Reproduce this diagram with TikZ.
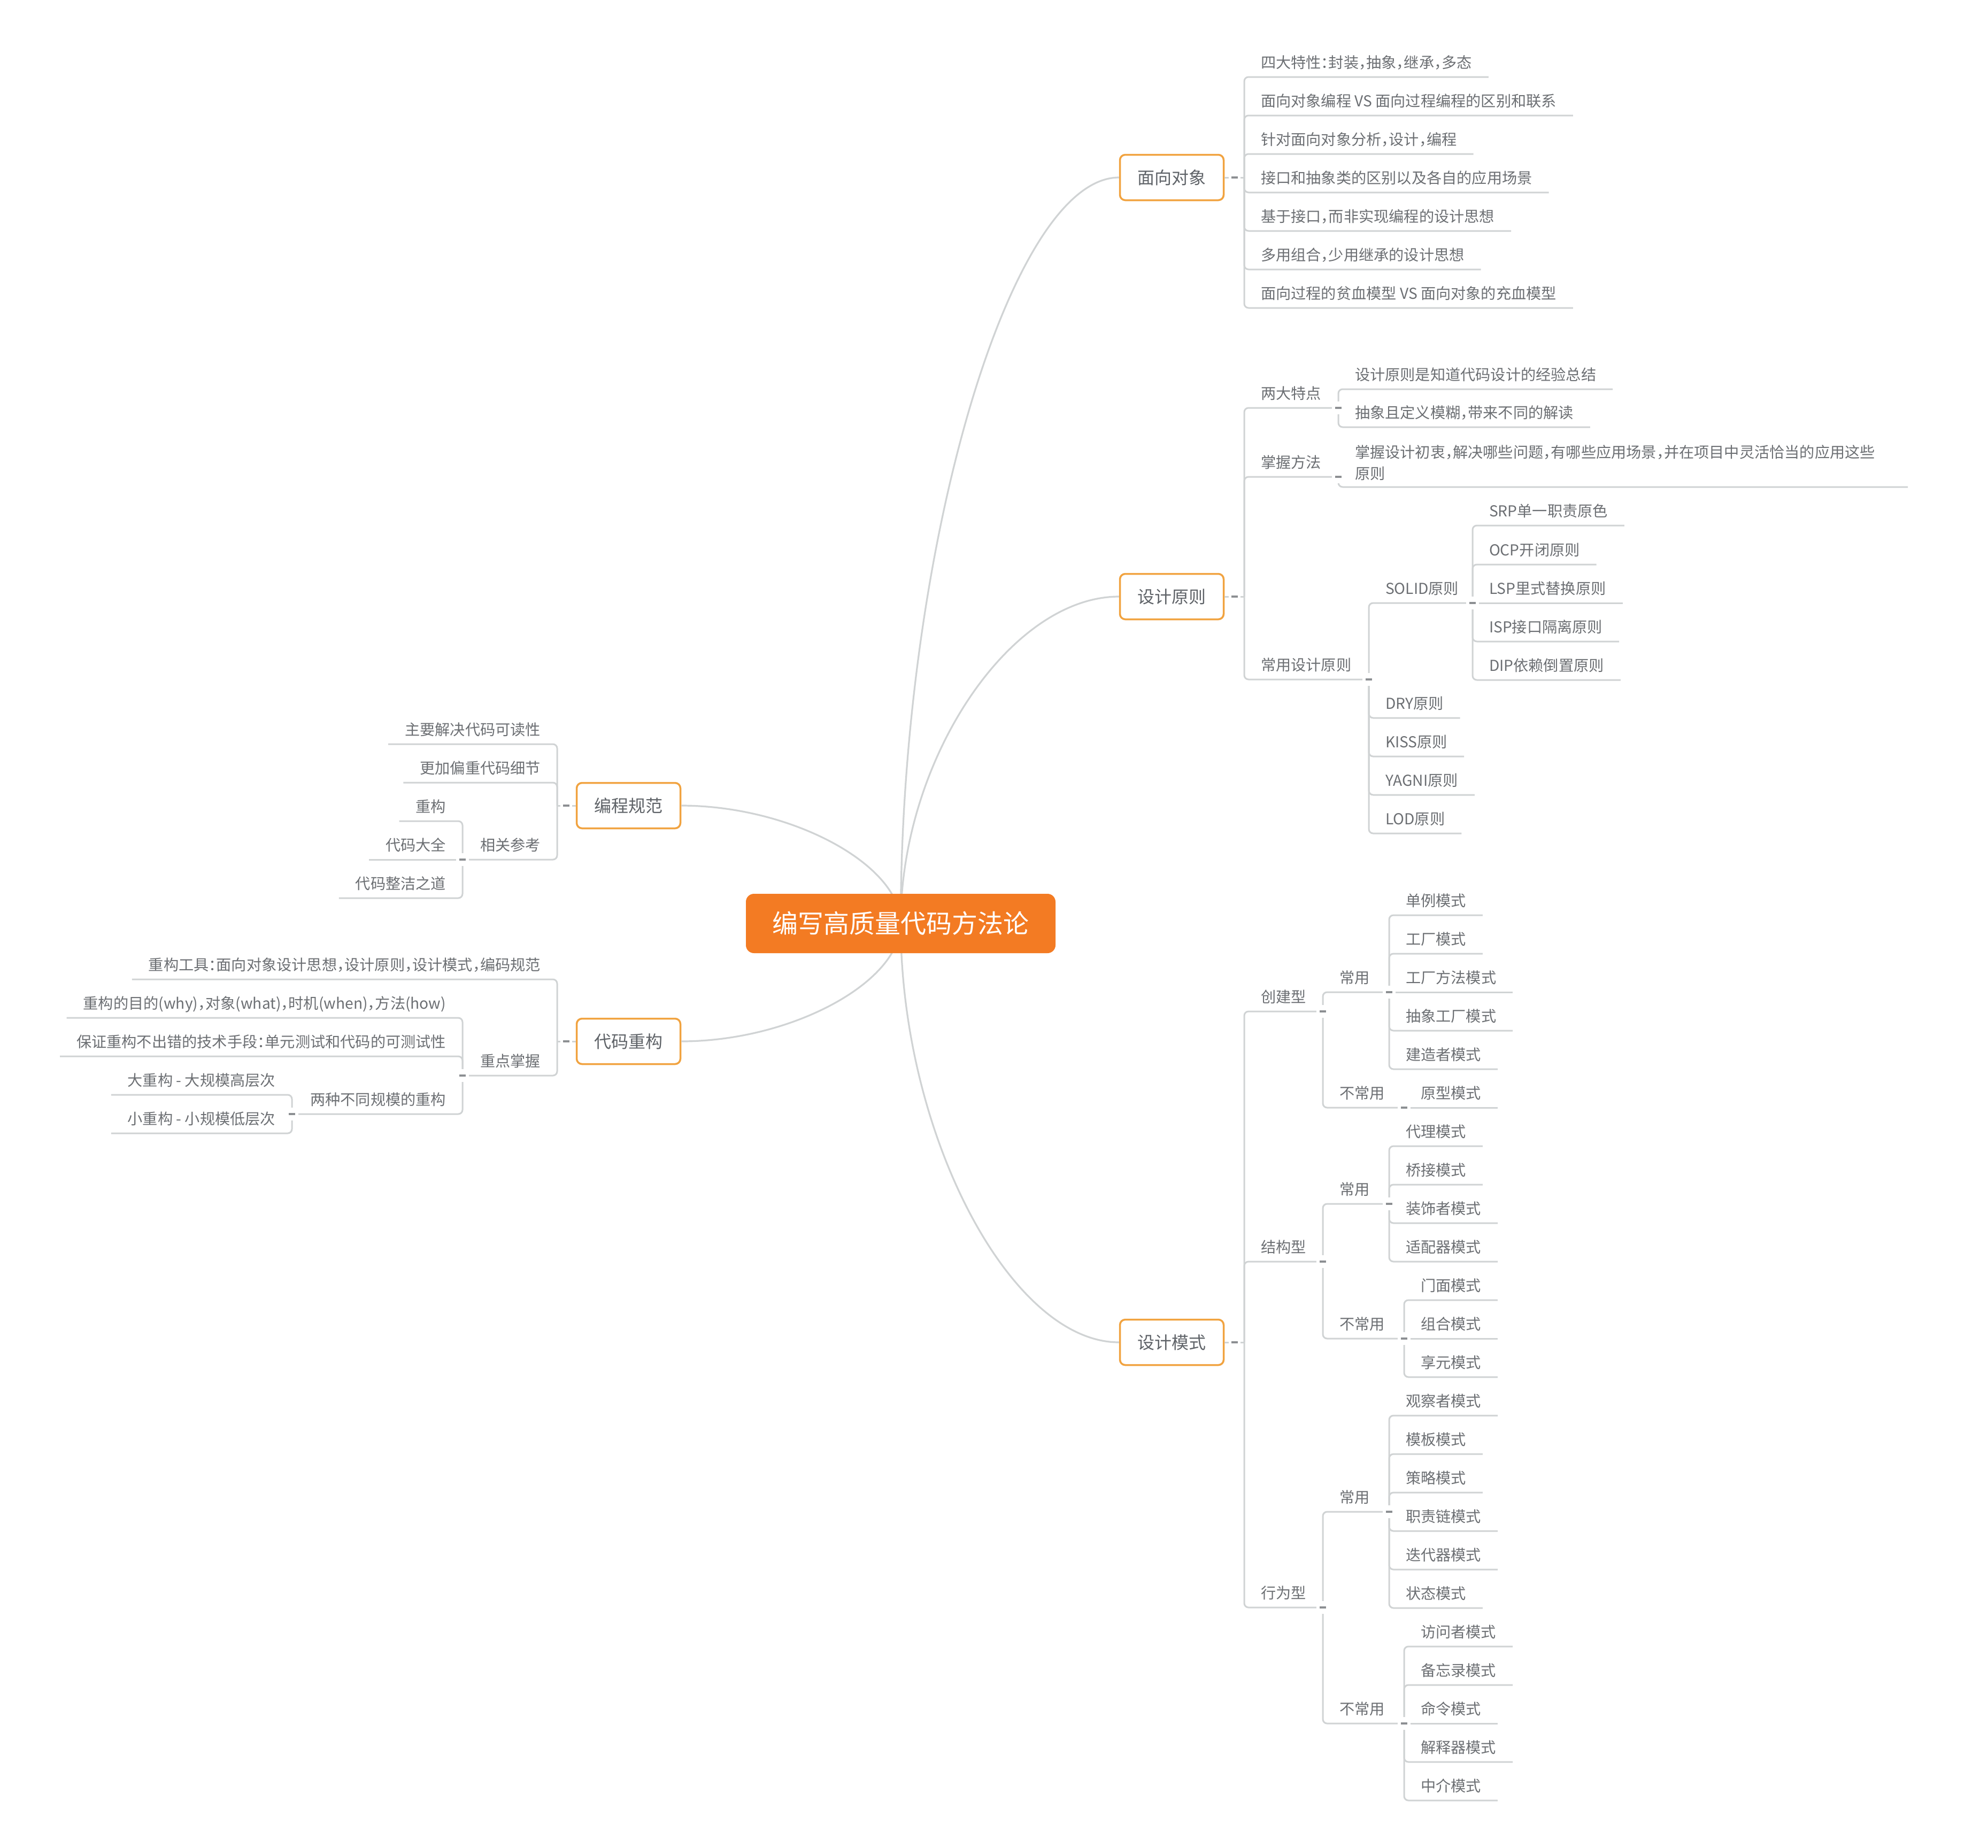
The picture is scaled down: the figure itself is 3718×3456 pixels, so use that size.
\documentclass[tikz,border=0pt]{standalone}
\usepackage{fontspec}
\newfontfamily\mmcjk{Noto Sans CJK SC}[CharacterWidth=AlternateHalf]
\usetikzlibrary{calc}
\definecolor{lnc}{RGB}{208,211,212}
\definecolor{dashc}{RGB}{140,143,146}
\definecolor{txt}{RGB}{108,111,115}
\definecolor{txtb}{RGB}{95,99,104}
\definecolor{boxc}{RGB}{241,163,64}
\definecolor{rootc}{RGB}{243,123,35}
\newcommand{\mmleaf}{\mmcjk\fontsize{28.2}{40}\selectfont}
\newcommand{\mmbox}{\mmcjk\fontsize{32}{38}\selectfont}
\newcommand{\mmroot}{\mmcjk\fontsize{48}{56}\selectfont}
\newcommand{\mmjdash}[1]{\fill[white] ([shift={(-12pt,-12pt)}]#1) rectangle ([shift={(12pt,12pt)}]#1);\fill[dashc] ([shift={(-6pt,-1.7pt)}]#1) rectangle ([shift={(6pt,1.7pt)}]#1);}
\newcommand{\mmbdash}[1]{\fill[white] ([shift={(-11pt,-6pt)}]#1) rectangle ([shift={(11pt,6pt)}]#1);\fill[dashc] ([shift={(-6pt,-1.7pt)}]#1) rectangle ([shift={(6pt,1.7pt)}]#1);}
\tikzset{
  ln/.style={draw=lnc, line width=3pt},
  el/.style={draw=lnc, line width=3pt, rounded corners=8pt},
  cv/.style={draw=lnc, line width=3.2pt},
  lfR/.style={anchor=south west, font=\mmleaf, text=txt, inner xsep=31pt, inner ysep=0pt, outer sep=0pt, text height=28pt, text depth=16.2pt},
  lfL/.style={lfR, anchor=south east},
  lfM/.style={anchor=base west, font=\mmleaf, text=txt, inner xsep=31pt, inner ysep=0pt, outer sep=0pt, align=left},
  bx/.style={draw=boxc, line width=3.5pt, rounded corners=10pt, fill=white, minimum width=194pt, minimum height=85pt, font=\mmbox, text=txtb, inner sep=0pt},
  rootbox/.style={fill=rootc, rounded corners=15pt, minimum width=579pt, minimum height=111pt, font=\mmroot, text=white, inner sep=0pt}
}
\begin{document}
\begin{tikzpicture}[x=1pt,y=-1pt]
\fill[white] (0,0) rectangle (3718,3456);
\useasboundingbox (0,0) rectangle (3718,3456);

% ---------- level-1 boxes ----------
\node[bx] (oo) at (2191.5,332) {面向对象};
\node[bx] (dp) at (2191.5,1116) {设计原则};
\node[bx] (pt) at (2191.5,2511) {设计模式};
\node[bx] (cs) at (1175.5,1507) {编程规范};
\node[bx] (rf) at (1175.5,1948) {代码重构};
\coordinate (C) at (1684.5,1727.5);

% ---------- curves from root ----------
\foreach \b/\m in {oo/m1, dp/m2, pt/m3} {
  \coordinate (\m) at ($(C)!0.5!(\b.west)$);
  \draw[cv] (C) .. controls (C |- \m) and (\m |- \b.west) .. (\b.west);
}
\foreach \b/\m in {cs/m4, rf/m5} {
  \coordinate (\m) at ($(C)!0.5!(\b.east)$);
  \draw[cv] (C) .. controls (C |- \m) and (\m |- \b.east) .. (\b.east);
}
\node[rootbox] (root) at (C) {编写高质量代码方法论};

% ---------- 面向对象 ----------
\coordinate (Joo) at (2327,332);
\draw[ln] (oo.east) -- (Joo);
\node[lfR] (oo1) at (2327,144) {四大特性：封装，抽象，继承，多态};
\node[lfR] (oo2) at (2327,216) {面向对象编程 VS 面向过程编程的区别和联系};
\node[lfR] (oo3) at (2327,288) {针对面向对象分析，设计，编程};
\node[lfR] (oo4) at (2327,360) {接口和抽象类的区别以及各自的应用场景};
\node[lfR] (oo5) at (2327,432) {基于接口，而非实现编程的设计思想};
\node[lfR] (oo6) at (2327,504) {多用组合，少用继承的设计思想};
\node[lfR] (oo7) at (2327,576) {面向过程的贫血模型 VS 面向对象的充血模型};
\foreach \c in {oo1,oo2,oo3,oo4,oo5,oo6,oo7} \draw[el] (Joo) |- (\c.south east);

% ---------- 设计原则 ----------
\coordinate (Jdp) at (2327,1116);
\draw[ln] (dp.east) -- (Jdp);
\node[lfR] (dp1) at (2327,763) {两大特点};
\node[lfR] (dp2) at (2327,892) {掌握方法};
\node[lfR] (dp3) at (2327,1271) {常用设计原则};
\foreach \c in {dp1,dp2,dp3} \draw[el] (Jdp) |- (\c.south east);

\coordinate (Jdp1) at (2503,763);
\node[lfR] (dp11) at (2503,728) {设计原则是知道代码设计的经验总结};
\node[lfR] (dp12) at (2503,799) {抽象且定义模糊，带来不同的解读};
\foreach \c in {dp11,dp12} \draw[el] (Jdp1) |- (\c.south east);

\coordinate (Jdp2) at (2503,892);
\coordinate (zu) at (2503,911);
\node[lfM, text width=1003pt] (dp21) at (2503,856) {掌握设计初衷，解决哪些问题，有哪些应用场景，并在项目中灵活恰当的应用这些\\原则};
\draw[el] (Jdp2) |- (zu -| dp21.east);

\coordinate (Jdp3) at (2560,1271);
\node[lfR] (so) at (2560,1128) {SOLID原则};
\node[lfR] (dry) at (2560,1343) {DRY原则};
\node[lfR] (kiss) at (2560,1415) {KISS原则};
\node[lfR] (yagni) at (2560,1487) {YAGNI原则};
\node[lfR] (lod) at (2560,1559) {LOD原则};
\foreach \c in {so,dry,kiss,yagni,lod} \draw[el] (Jdp3) |- (\c.south east);

\coordinate (Jso) at (2754,1128);
\node[lfR] (srp) at (2754,983) {SRP单一职责原色};
\node[lfR] (ocp) at (2754,1056) {OCP开闭原则};
\node[lfR] (lsp) at (2754,1128) {LSP里式替换原则};
\node[lfR] (isp) at (2754,1200) {ISP接口隔离原则};
\node[lfR] (dip) at (2754,1272) {DIP依赖倒置原则};
\foreach \c in {srp,ocp,isp,dip} \draw[el] (Jso) |- (\c.south east);
\draw[ln] (Jso) -- (lsp.south east);

% ---------- 设计模式 ----------
\coordinate (Jpt) at (2327,2511);
\draw[ln] (pt.east) -- (Jpt);
\node[lfR] (cj) at (2327,1892) {创建型};
\node[lfR] (jg) at (2327,2360) {结构型};
\node[lfR] (xw) at (2327,3007) {行为型};
\foreach \c in {cj,jg,xw} \draw[el] (Jpt) |- (\c.south east);

\coordinate (Jcj) at (2474,1892);
\node[lfR] (cj1) at (2474,1856) {常用};
\node[lfR] (cj2) at (2474,2072) {不常用};
\foreach \c in {cj1,cj2} \draw[el] (Jcj) |- (\c.south east);
\coordinate (Jcj1) at (2598,1856);
\node[lfR] (p1) at (2598,1712) {单例模式};
\node[lfR] (p2) at (2598,1784) {工厂模式};
\node[lfR] (p3) at (2598,1856) {工厂方法模式};
\node[lfR] (p4) at (2598,1928) {抽象工厂模式};
\node[lfR] (p5) at (2598,2000) {建造者模式};
\foreach \c in {p1,p2,p4,p5} \draw[el] (Jcj1) |- (\c.south east);
\draw[ln] (Jcj1) -- (p3.south east);
\coordinate (Jcj2) at (2626,2072);
\node[lfR] (p6) at (2626,2072) {原型模式};
\draw[ln] (Jcj2) -- (p6.south east);

\coordinate (Jjg) at (2474,2360);
\node[lfR] (jg1) at (2474,2252) {常用};
\node[lfR] (jg2) at (2474,2504) {不常用};
\foreach \c in {jg1,jg2} \draw[el] (Jjg) |- (\c.south east);
\coordinate (Jjg1) at (2598,2252);
\node[lfR] (s1) at (2598,2144) {代理模式};
\node[lfR] (s2) at (2598,2216) {桥接模式};
\node[lfR] (s3) at (2598,2288) {装饰者模式};
\node[lfR] (s4) at (2598,2360) {适配器模式};
\foreach \c in {s1,s2,s3,s4} \draw[el] (Jjg1) |- (\c.south east);
\coordinate (Jjg2) at (2626,2504);
\node[lfR] (s5) at (2626,2432) {门面模式};
\node[lfR] (s6) at (2626,2504) {组合模式};
\node[lfR] (s7) at (2626,2576) {享元模式};
\foreach \c in {s5,s7} \draw[el] (Jjg2) |- (\c.south east);
\draw[ln] (Jjg2) -- (s6.south east);

\coordinate (Jxw) at (2474,3007);
\node[lfR] (xw1) at (2474,2828) {常用};
\node[lfR] (xw2) at (2474,3224) {不常用};
\foreach \c in {xw1,xw2} \draw[el] (Jxw) |- (\c.south east);
\coordinate (Jxw1) at (2598,2828);
\node[lfR] (b1) at (2598,2648) {观察者模式};
\node[lfR] (b2) at (2598,2720) {模板模式};
\node[lfR] (b3) at (2598,2792) {策略模式};
\node[lfR] (b4) at (2598,2864) {职责链模式};
\node[lfR] (b5) at (2598,2936) {迭代器模式};
\node[lfR] (b6) at (2598,3008) {状态模式};
\foreach \c in {b1,b2,b3,b4,b5,b6} \draw[el] (Jxw1) |- (\c.south east);
\coordinate (Jxw2) at (2626,3224);
\node[lfR] (b7) at (2626,3080) {访问者模式};
\node[lfR] (b8) at (2626,3152) {备忘录模式};
\node[lfR] (b9) at (2626,3224) {命令模式};
\node[lfR] (b10) at (2626,3296) {解释器模式};
\node[lfR] (b11) at (2626,3368) {中介模式};
\foreach \c in {b7,b8,b10,b11} \draw[el] (Jxw2) |- (\c.south east);
\draw[ln] (Jxw2) -- (b9.south east);

% ---------- 编程规范 ----------
\coordinate (Jcs) at (1042,1507);
\draw[ln] (cs.west) -- (Jcs);
\node[lfL] (cs1) at (1042,1392) {主要解决代码可读性};
\node[lfL] (cs2) at (1042,1464) {更加偏重代码细节};
\node[lfL] (cs3) at (1042,1608) {相关参考};
\foreach \c in {cs1,cs2,cs3} \draw[el] (Jcs) |- (\c.south west);
\coordinate (Jcs3) at (865,1608);
\node[lfL] (cs31) at (865,1536) {重构};
\node[lfL] (cs32) at (865,1608) {代码大全};
\node[lfL] (cs33) at (865,1680) {代码整洁之道};
\foreach \c in {cs31,cs33} \draw[el] (Jcs3) |- (\c.south west);
\draw[ln] (Jcs3) -- (cs32.south west);

% ---------- 代码重构 ----------
\coordinate (Jrf) at (1042,1948);
\draw[ln] (rf.west) -- (Jrf);
\node[lfL] (rf1) at (1042,1832) {重构工具：面向对象设计思想，设计原则，设计模式，编码规范};
\node[lfL] (rf2) at (1042,2012) {重点掌握};
\foreach \c in {rf1,rf2} \draw[el] (Jrf) |- (\c.south west);
\coordinate (Jrf2) at (865,2012);
\node[lfL] (rf21) at (865,1904) {重构的目的(why)，对象(what)，时机(when)，方法(how)};
\node[lfL] (rf22) at (865,1976) {保证重构不出错的技术手段：单元测试和代码的可测试性};
\node[lfL] (rf23) at (865,2084) {两种不同规模的重构};
\foreach \c in {rf21,rf22,rf23} \draw[el] (Jrf2) |- (\c.south west);
\coordinate (Jrf23) at (546,2084);
\node[lfL] (rf231) at (546,2048) {大重构 - 大规模高层次};
\node[lfL] (rf232) at (546,2120) {小重构 - 小规模低层次};
\foreach \c in {rf231,rf232} \draw[el] (Jrf23) |- (\c.south west);

% ---------- collapse marks ----------
\foreach \j in {Jdp1,Jdp2,Jdp3,Jso,Jcj,Jcj1,Jcj2,Jjg,Jjg1,Jjg2,Jxw,Jxw1,Jxw2,Jcs3,Jrf2,Jrf23} {\mmjdash{\j}}
\coordinate (Moo) at ($(oo.east)!0.5!(Joo)$);
\coordinate (Mdp) at ($(dp.east)!0.5!(Jdp)$);
\coordinate (Mpt) at ($(pt.east)!0.5!(Jpt)$);
\coordinate (Mcs) at ($(cs.west)!0.5!(Jcs)$);
\coordinate (Mrf) at ($(rf.west)!0.5!(Jrf)$);
\foreach \j in {Moo,Mdp,Mpt,Mcs,Mrf} {\mmbdash{\j}}
\end{tikzpicture}
\end{document}
